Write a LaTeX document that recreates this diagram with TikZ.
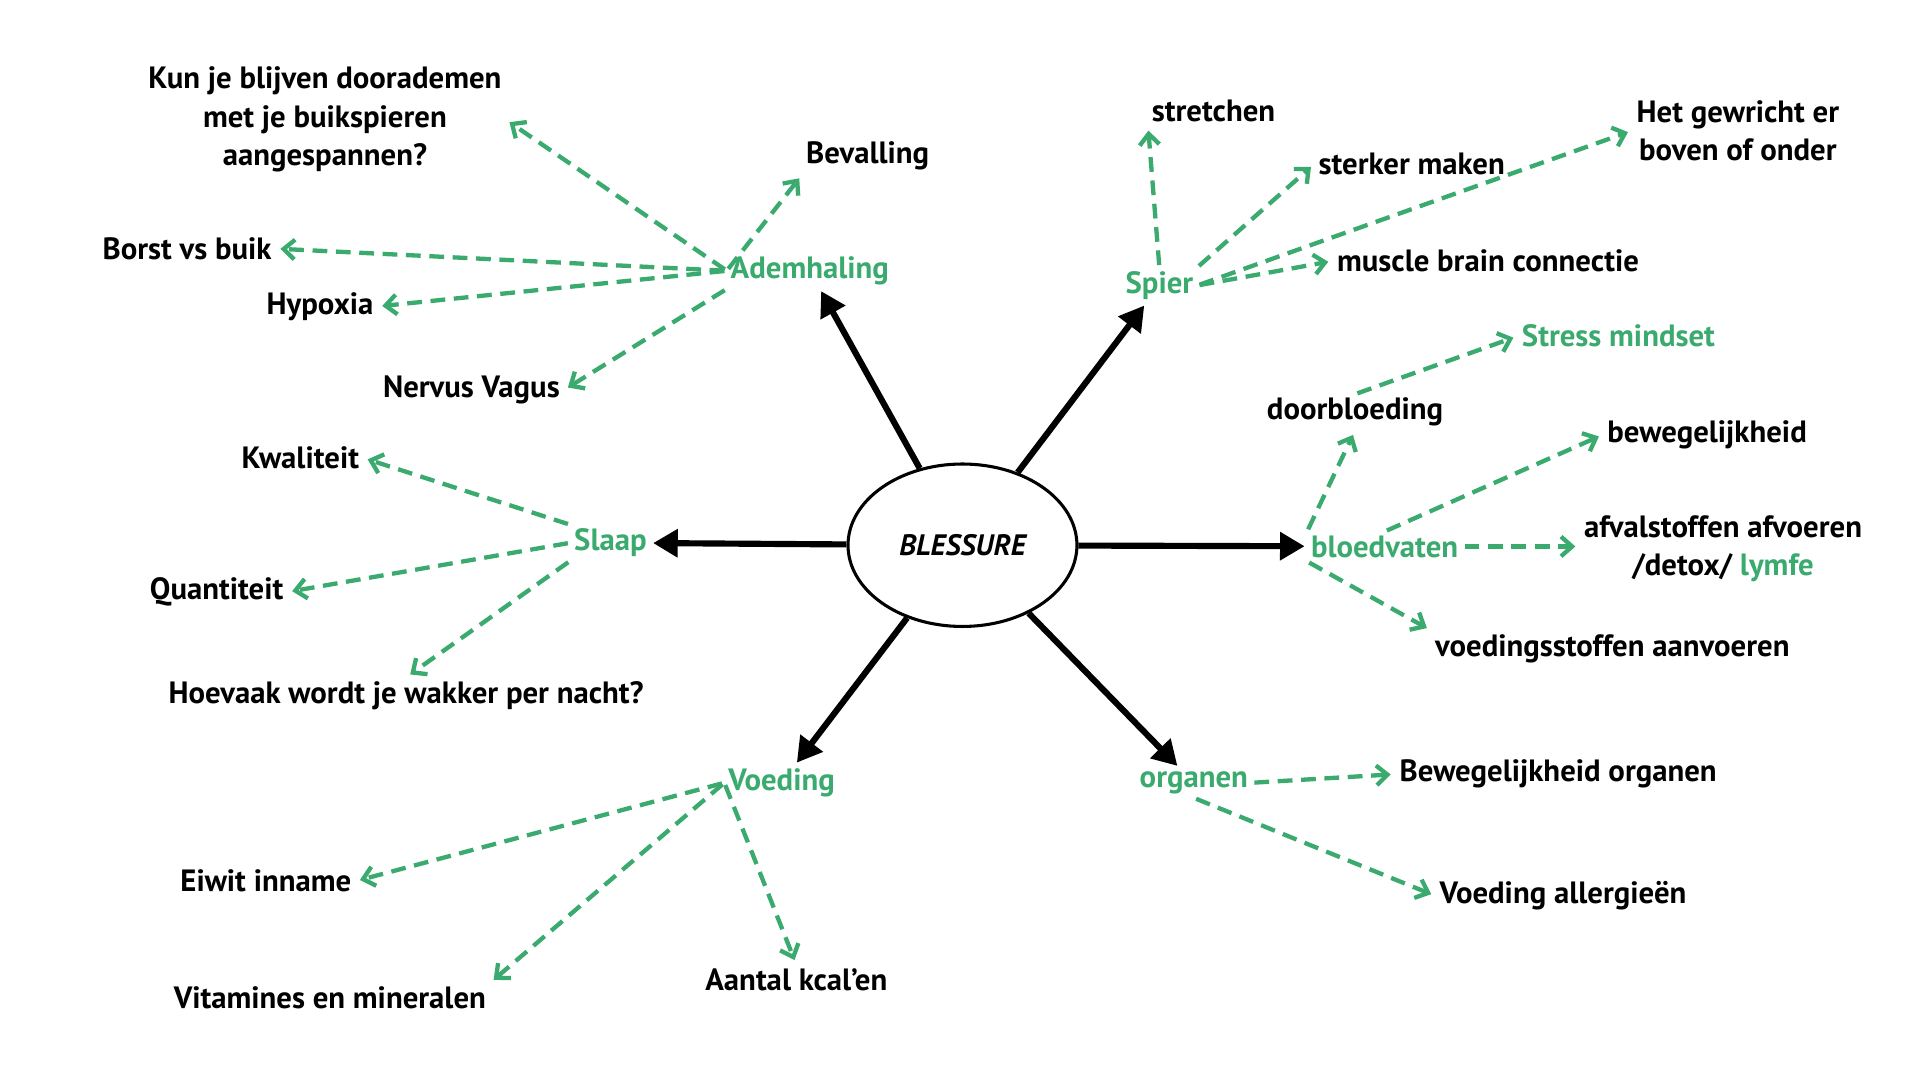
\documentclass[tikz,border=0pt]{standalone}
\usepackage{fontspec}
\setmainfont{PT Sans}
\usetikzlibrary{arrows.meta,shapes.geometric}
\definecolor{mapgreen}{RGB}{58,170,110}
\tikzset{
  leaf/.style={font=\fontsize{25}{31}\selectfont\bfseries, inner sep=3pt, align=center},
  cat/.style={leaf, text=mapgreen},
  main/.style={line width=5pt, -{Triangle[length=20pt,width=22pt]}, shorten >=2pt},
  sub/.style={mapgreen, line width=3.5pt, dash pattern=on 12pt off 7pt, -{Straight Barb[length=9pt,width=16pt]}, shorten >=4pt, shorten <=2pt}
}
\begin{document}
\begin{tikzpicture}[x=1pt,y=-1pt]
\useasboundingbox (0,0) rectangle (1560,878);
% centre
\node[draw, line width=2.5pt, ellipse, minimum width=186pt, minimum height=132pt,
  font=\fontsize{24}{28}\selectfont\bfseries\itshape] (bles) at (782,443) {BLESSURE};
% categories
\node[cat] (adem) at (658,220) {Ademhaling};
\node[cat] (spier) at (942,232) {Spier};
\node[cat] (bloed) at (1125,444) {bloedvaten};
\node[cat] (slaap) at (496,441) {Slaap};
\node[cat] (voed) at (635,636) {Voeding};
\node[cat] (org) at (970,636) {organen};
% ademhaling
\node[leaf] (beval) at (705,127) {Bevalling};
\node[leaf] (kun) at (264,97) {Kun je blijven doorademen\\met je buikspieren\\aangespannen?};
\node[leaf] (borst) at (152,202) {Borst vs buik};
\node[leaf] (hypox) at (260,249) {Hypoxia};
\node[leaf] (vagus) at (383,317) {Nervus Vagus};
% spier
\node[leaf] (stret) at (986,90) {stretchen};
\node[leaf] (sterk) at (1147,133) {sterker maken};
\node[leaf] (gewr) at (1412,106) {Het gewricht er\\boven of onder};
\node[leaf] (brain) at (1209,212) {muscle brain connectie};
% bloedvaten
\node[leaf] (doorb) at (1101,335) {doorbloeding};
\node[cat] (stress) at (1315,273) {Stress mindset};
\node[leaf] (beweg) at (1387,353) {bewegelijkheid};
\node[leaf] (afval) at (1400,446) {afvalstoffen afvoeren\\/detox/ \textcolor{mapgreen}{lymfe}};
\node[leaf] (aanv) at (1310,527) {voedingsstoffen aanvoeren};
% slaap
\node[leaf] (kwal) at (244,372) {Kwaliteit};
\node[leaf] (quant) at (176,481) {Quantiteit};
\node[leaf] (hoev) at (330,565) {Hoevaak wordt je wakker per nacht?};
% voeding
\node[leaf] (eiwit) at (216,716) {Eiwit inname};
\node[leaf] (vitam) at (268,811) {Vitamines en mineralen};
\node[leaf] (kcal) at (647,796) {Aantal kcal’en};
% organen
\node[leaf] (bworg) at (1266,629) {Bewegelijkheid organen};
\node[leaf] (aller) at (1270,728) {Voeding allergieën};

% main arrows
\draw[main] (bles) -- (adem);
\draw[main] (bles) -- (spier);
\draw[main] (bles) -- (bloed);
\draw[main] (bles) -- (org);
\draw[main] (bles) -- (voed);
\draw[main] (bles) -- (slaap);

% sub arrows
\draw[sub] (adem.west) -- (beval.south west);
\draw[sub] (adem.west) -- (kun.east);
\draw[sub] (adem.west) -- (borst.east);
\draw[sub] (adem.west) -- (hypox.east);
\draw[sub] (adem.south west) -- (vagus.east);
\draw[sub] (spier.north) -- (stret.south west);
\draw[sub] (spier.north east) -- (sterk.west);
\draw[sub] (spier.east) -- (gewr.west);
\draw[sub] (spier.east) -- (brain.west);
\draw[sub] (bloed.north west) -- (doorb.south);
\draw[sub] (doorb.north) -- (stress.west);
\draw[sub] (bloed.north) -- (beweg.west);
\draw[sub] (bloed.east) -- (afval.west|-bloed.east);
\draw[sub] (bloed.south west) -- (aanv.north west);
\draw[sub] (slaap.north west) -- (kwal.east);
\draw[sub] (slaap.west) -- (quant.east);
\draw[sub] (slaap.south west) -- (hoev.north);
\draw[sub] (voed.west) -- (eiwit.east);
\draw[sub] (voed.west) -- (vitam.north east);
\draw[sub] (voed.west) -- (kcal.north);
\draw[sub] (org.east) -- (bworg.west);
\draw[sub] (org.south) -- (aller.west);
\end{tikzpicture}
\end{document}
